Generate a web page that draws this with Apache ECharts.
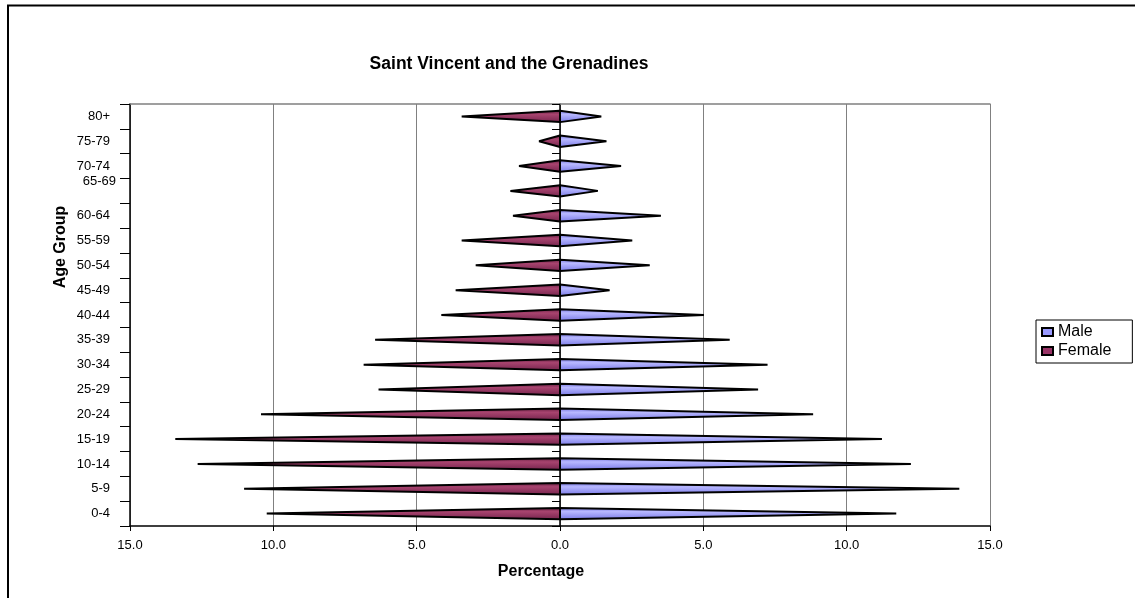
<!DOCTYPE html>
<html><head><meta charset="utf-8">
<script src="https://cdn.jsdelivr.net/npm/echarts@6/dist/echarts.min.js"></script>
<style>html,body{margin:0;padding:0;background:#fff}#c{width:1135px;height:598px}</style>
</head><body><div id="c"></div>
<script>
const ageGroups = ['0-4','5-9','10-14','15-19','20-24','25-29','30-34','35-39','40-44','45-49','50-54','55-59','60-64','65-69','70-74','75-79','80+'];
const male   = [11.73, 13.93, 12.24, 11.23, 8.83, 6.91, 7.24, 5.92, 5.02, 1.73, 3.13, 2.52, 3.52, 1.32, 2.13, 1.62, 1.44];
const female = [10.23, 11.02, 12.64, 13.42, 10.43, 6.33, 6.85, 6.45, 4.14, 3.64, 2.94, 3.43, 1.64, 1.73, 1.43, 0.73, 3.43];
const titleText = 'Saint Vincent and the Grenadines';
const FONT = 'Liberation Sans, Arial, sans-serif';

const chart = echarts.init(document.getElementById('c'), null, {renderer: 'canvas'});

function wedge(stops) {
  return function (params, api) {
    const v = api.value(0), ci = api.value(1);
    const base = api.coord([0, ci]);
    const tip = api.coord([v, ci]);
    const h = api.size([0, 1])[1] * 0.46;
    return {
      type: 'polygon',
      shape: { points: [[base[0], base[1] - h / 2], [tip[0], tip[1]], [base[0], base[1] + h / 2]] },
      style: {
        fill: new echarts.graphic.LinearGradient(0, 0, 0, 1, stops),
        stroke: '#000', lineWidth: 2, lineJoin: 'bevel'
      }
    };
  };
}

const option = {
  animation: false,
  backgroundColor: '#fff',
  title: {
    text: titleText, left: 509, top: 55, textAlign: 'center', padding: 0,
    textStyle: { fontFamily: FONT, fontSize: 17.5, fontWeight: 'bold', color: '#000' }
  },
  legend: {
    orient: 'vertical', left: 1036, top: 320, padding: [4, 21, 4, 5],
    itemGap: 3, itemWidth: 11, itemHeight: 8, icon: 'rect',
    borderColor: '#000', borderWidth: 1,
    itemStyle: { borderColor: '#000', borderWidth: 2 },
    textStyle: { fontFamily: FONT, fontSize: 16, color: '#000' },
    data: ['Male', 'Female']
  },
  grid: { left: 130, right: 145, top: 104, bottom: 72, show: false },
  xAxis: [
    {
      type: 'value', min: -15, max: 15, interval: 5, position: 'bottom',
      axisLine: { show: true, onZero: false, lineStyle: { color: '#000', width: 1.5 } },
      axisTick: { show: true, length: 5, lineStyle: { color: '#000' } },
      splitLine: { show: true, lineStyle: { color: '#808080', width: 1 } },
      axisLabel: { formatter: v => Math.abs(v).toFixed(1), fontFamily: FONT, fontSize: 13, color: '#000', margin: 13 },
      name: 'Percentage', nameLocation: 'middle', nameGap: 38, nameMoveOverlap: false,
      nameTextStyle: { fontFamily: FONT, fontSize: 16, fontWeight: 'bold', color: '#000', padding: [0, 38, 0, 0] }
    },
    {
      type: 'value', min: -15, max: 15, interval: 5, position: 'top',
      axisLine: { show: true, onZero: false, lineStyle: { color: '#808080', width: 1.5 } },
      axisTick: { show: false }, axisLabel: { show: false }, splitLine: { show: false }
    }
  ],
  yAxis: [
    {
      type: 'category', data: ageGroups, position: 'left',
      axisLine: { show: true, onZero: false, lineStyle: { color: '#000', width: 1.5 } },
      axisTick: { show: true, length: 10, lineStyle: { color: '#000' } },
      axisLabel: {
        margin: 14, fontFamily: FONT, fontSize: 13, color: '#000',
        formatter: v => v === '65-69' ? '{b|' + v + '}' : '{a|' + v + '}',
        rich: {
          a: { fontFamily: FONT, fontSize: 13, color: '#000', padding: [0, 6, 0, 0] },
          b: { fontFamily: FONT, fontSize: 13, color: '#000', padding: [0, 0, 18, 0] }
        }
      },
      name: 'Age Group', nameLocation: 'middle', nameGap: 61, nameRotate: 90, nameMoveOverlap: false,
      nameTextStyle: { fontFamily: FONT, fontSize: 16, fontWeight: 'bold', color: '#000', padding: [0, 0, 0, 136] }
    },
    {
      type: 'category', data: ageGroups, position: 'left',
      axisLine: { show: true, onZero: true, lineStyle: { color: '#000', width: 1.5 } },
      axisTick: { show: true, length: 8, lineStyle: { color: '#000' } },
      axisLabel: { show: false }
    }
  ],
  graphic: [{
    type: 'rect', shape: { x: 8, y: 5.5, width: 1200, height: 700 },
    style: { fill: 'none', stroke: '#000', lineWidth: 2 }, silent: true, z: 100
  }],
  series: [
    {
      name: 'Male', type: 'custom', xAxisIndex: 0, yAxisIndex: 0,
      itemStyle: { color: '#9999ff' },
      renderItem: wedge([{offset: 0, color: '#6a6ad8'}, {offset: 0.35, color: '#b8b8ff'}, {offset: 1, color: '#7676e6'}]),
      encode: { x: 0, y: 1 },
      data: male.map((v, i) => [v, i]), z: 5
    },
    {
      name: 'Female', type: 'custom', xAxisIndex: 0, yAxisIndex: 0,
      itemStyle: { color: '#993366' },
      renderItem: wedge([{offset: 0, color: '#5e1a3c'}, {offset: 0.35, color: '#a8446f'}, {offset: 1, color: '#72224b'}]),
      encode: { x: 0, y: 1 },
      data: female.map((v, i) => [-v, i]), z: 5
    }
  ]
};
chart.setOption(option);
</script>
</body></html>
